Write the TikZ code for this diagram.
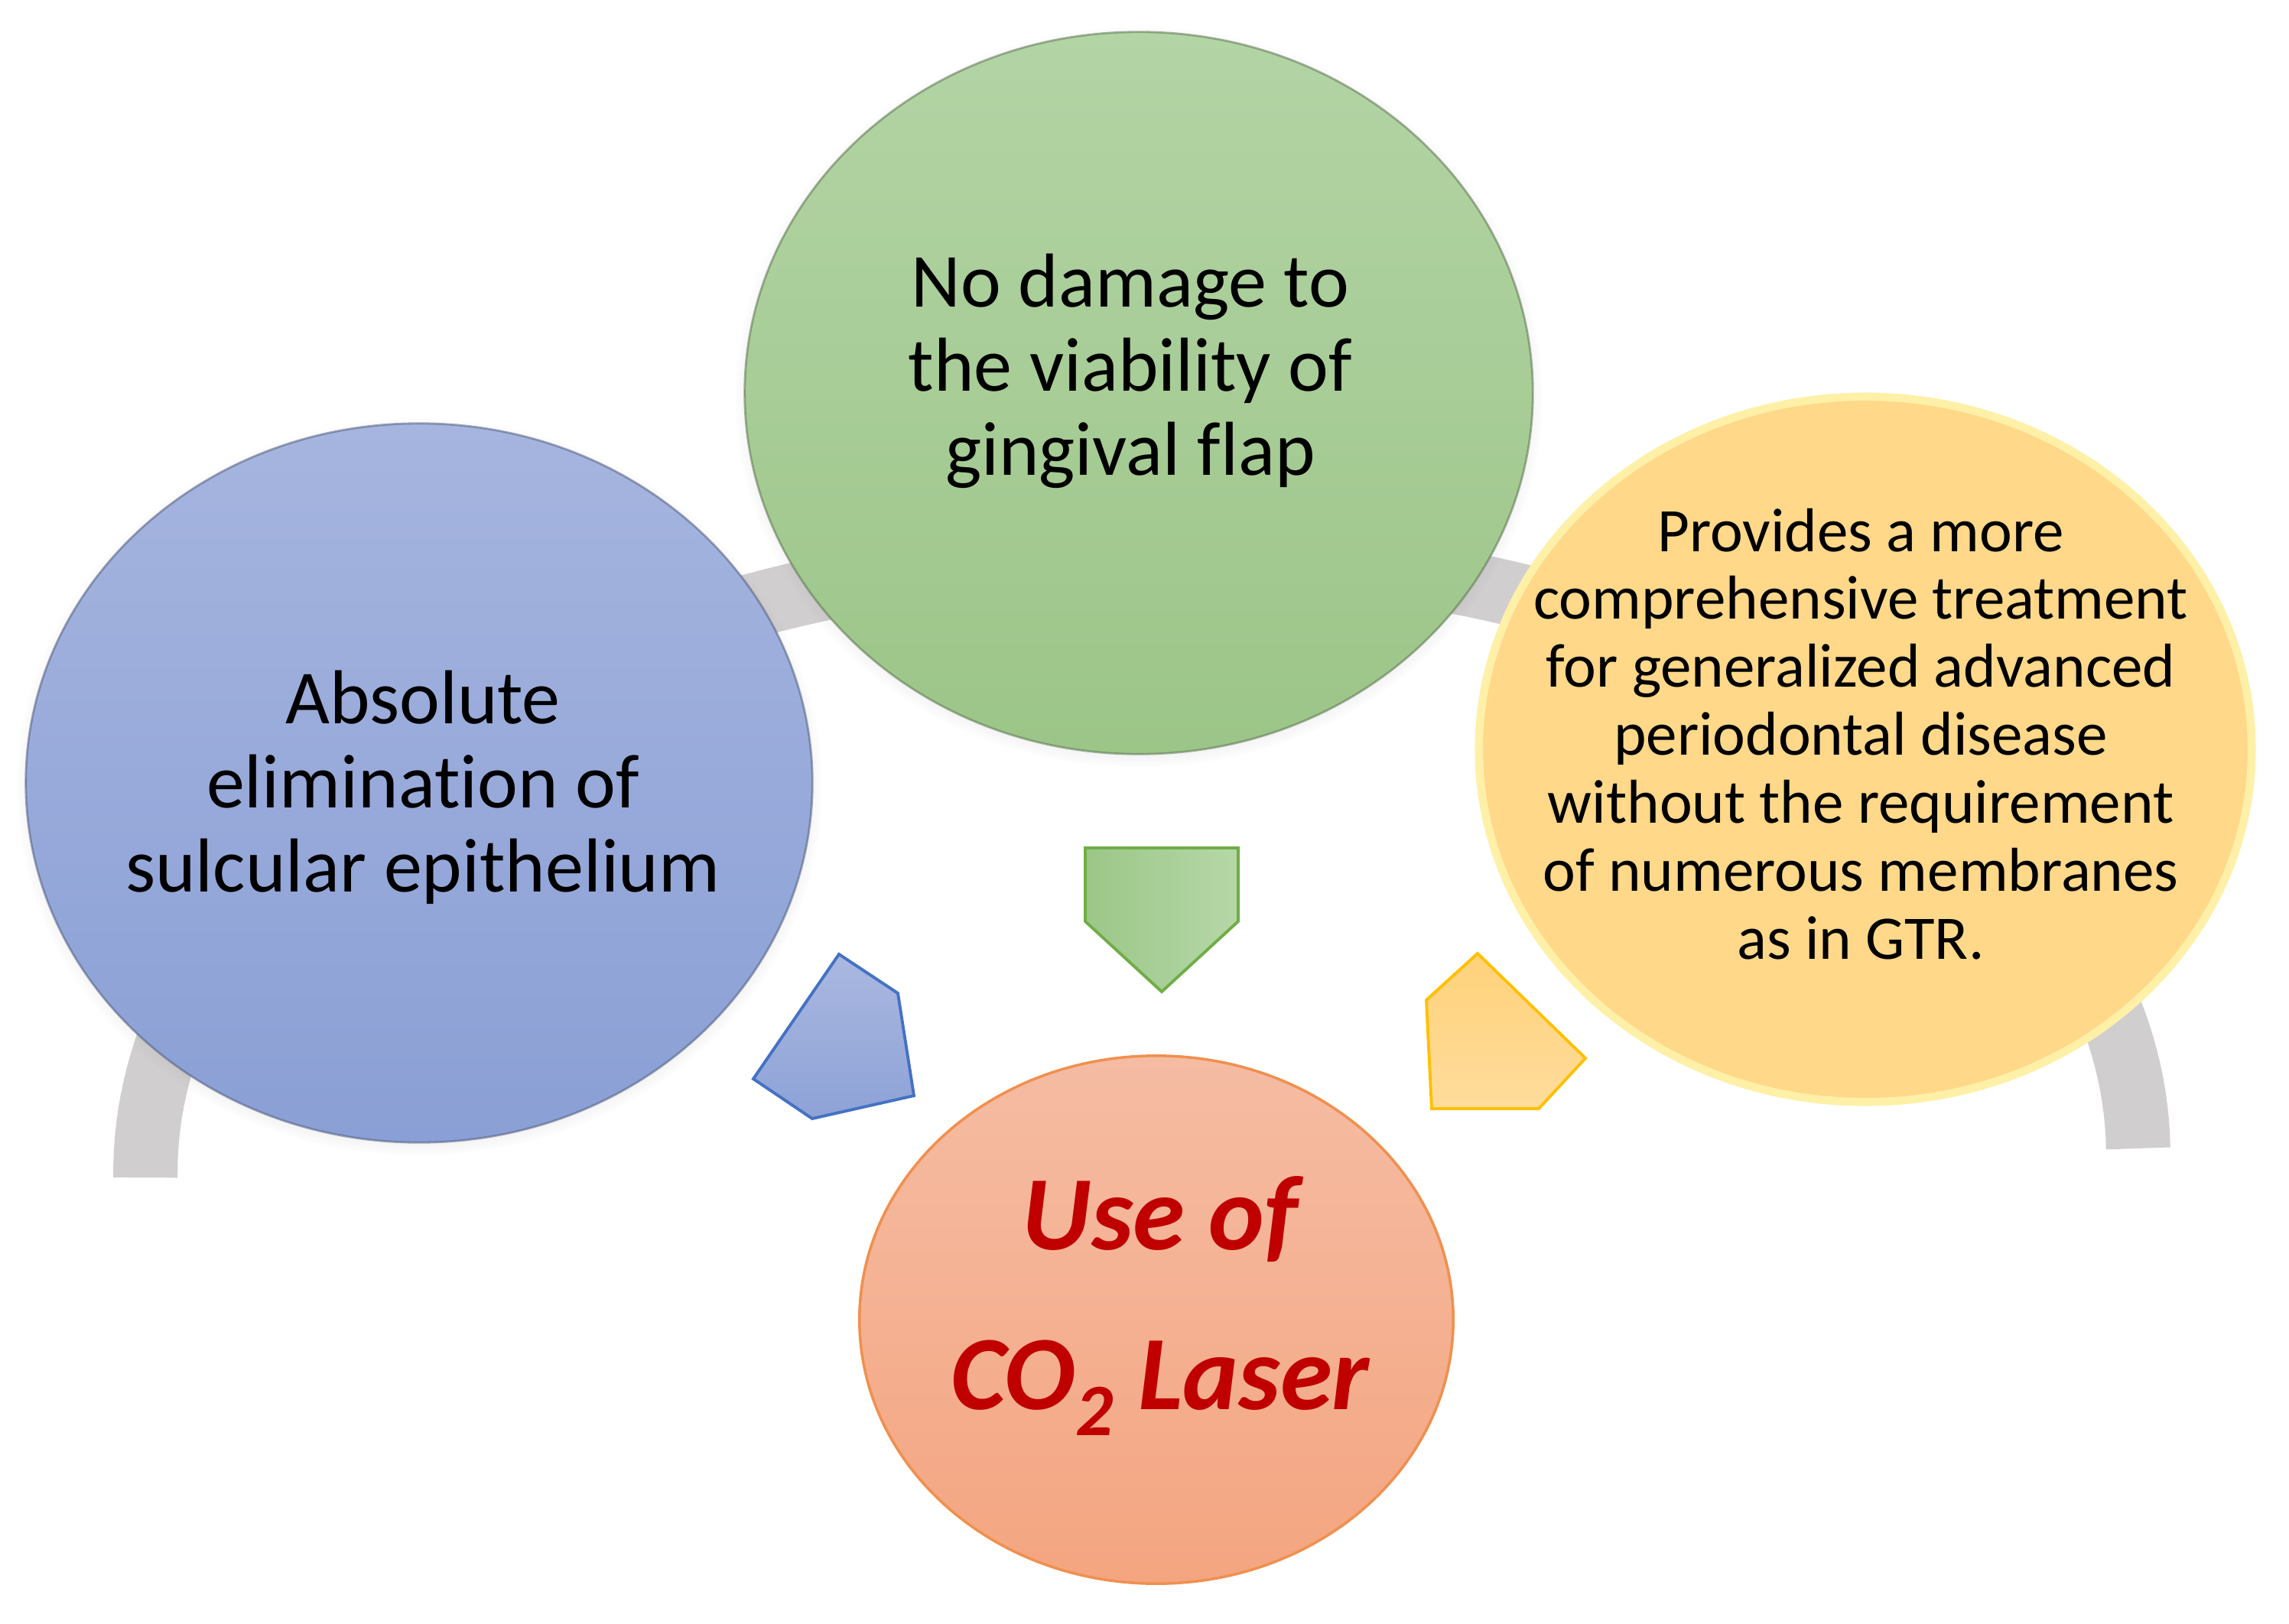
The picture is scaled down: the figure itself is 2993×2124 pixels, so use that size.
\documentclass[tikz,border=0pt]{standalone}
\usepackage{fontspec}
\setmainfont{Carlito}[Ligatures=NoCommon]
\usetikzlibrary{shapes.geometric,shadows}
\definecolor{gband}{HTML}{D0CECE}
\definecolor{blueT}{HTML}{A6B5DF}
\definecolor{blueB}{HTML}{8A9FD5}
\definecolor{greenT}{HTML}{B3D4A5}
\definecolor{greenB}{HTML}{9CC588}
\definecolor{yelF}{HTML}{FFD88A}
\definecolor{yelGlow}{HTML}{FFF0A8}
\definecolor{orT}{HTML}{F5BCA3}
\definecolor{orB}{HTML}{F4A580}
\definecolor{orLine}{HTML}{F0904F}
\definecolor{laserred}{HTML}{C00000}
\definecolor{arBline}{HTML}{4472C4}
\definecolor{arBT}{HTML}{AAB8E0}
\definecolor{arBB}{HTML}{8EA2D7}
\definecolor{arGline}{HTML}{70AD47}
\definecolor{arGL}{HTML}{9BC788}
\definecolor{arGR}{HTML}{B6D7A8}
\definecolor{arYline}{HTML}{FFC000}
\definecolor{arYT}{HTML}{FFD27A}
\definecolor{arYB}{HTML}{FFDC9C}
\newcommand{\mylines}[1]{\begin{tabular}[t]{@{}c@{}}#1\end{tabular}}
\tikzset{
  bubble/.style={ellipse, inner sep=0pt, outer sep=0pt},
  softshadow/.style={circular drop shadow={shadow xshift=0pt, shadow yshift=-0.5mm, shadow scale=1.025, opacity=0.35}},
  rim/.style={draw=#1, draw opacity=0.55, line width=0.8pt},
  txt/.style={inner sep=0pt, anchor=base, text=black, font=\fontsize{28.45}{31.3}\selectfont},
  smalltxt/.style={inner sep=0pt, anchor=base, text=black, font=\fontsize{23.05}{25.3}\selectfont},
  lasertxt/.style={inner sep=0pt, anchor=base, text=laserred, font=\bfseries\itshape\fontsize{39.3}{59.7}\selectfont},
  band/.style={draw=gband, line width=23.9pt},
  pent/.style={line width=1.1pt, line join=miter}
}
\begin{document}
\begin{tikzpicture}[x=0.01cm, y=-0.01cm]
\useasboundingbox (0,0) rectangle (2993,2124);
\fill[white] (0,0) rectangle (2993,2124);

% grey arc behind the circles
\draw[band, rotate around={0.84:(1493,1521)}]
  plot[domain=180:0, samples=150] ({1493+1303*cos(\x)},{1521-797*sin(\x)});

% circles
\node[bubble, softshadow, rim=blueB!60!black, minimum width=10.28cm, minimum height=9.40cm,
      top color=blueT, bottom color=blueB] (abs) at (548,1024) {};
\node[bubble, softshadow, rim=greenB!60!black, minimum width=10.30cm, minimum height=9.44cm,
      top color=greenT, bottom color=greenB] (nodmg) at (1489,514) {};
\node[bubble, minimum width=10.10cm, minimum height=9.22cm,
      fill=yelF, draw=yelGlow, line width=3pt] (prov) at (2439,980) {};
\node[bubble, minimum width=7.76cm, minimum height=6.90cm,
      top color=orT, bottom color=orB, draw=orLine, line width=1pt] (laser) at (1512,1726) {};

% arrows (pentagons)
\draw[pent, draw=arBline, top color=arBT, bottom color=arBB]
  (1097,1248) -- (1174,1299) -- (1195,1433) -- (1062,1463) -- (985,1411) -- cycle;
\draw[pent, draw=arGline, left color=arGL, right color=arGR]
  (1419,1109) -- (1619,1109) -- (1619,1205) -- (1519,1297) -- (1419,1205) -- cycle;
\draw[pent, draw=arYline, top color=arYT, bottom color=arYB]
  (1932,1247) -- (2073,1384) -- (2012,1450) -- (1872,1450) -- (1865,1308) -- cycle;

% texts
\node[txt] (abstxt) at (553,946) {\mylines{Absolute\\elimination of\\sulcular epithelium}};
\node[txt] (nodmgtxt) at (1478,401) {\mylines{No damage to\\the viability of\\gingival flap}};
\node[smalltxt] (provtxt) at (2433,721) {\mylines{Provides a more\\comprehensive treatment\\for generalized advanced\\periodontal disease\\without the requirement\\of numerous membranes\\as in GTR.}};
\node[lasertxt] (lasertxt) at (1517,1634) {\mylines{Use of\\CO\textsubscript{2} Laser}};
\end{tikzpicture}
\end{document}
